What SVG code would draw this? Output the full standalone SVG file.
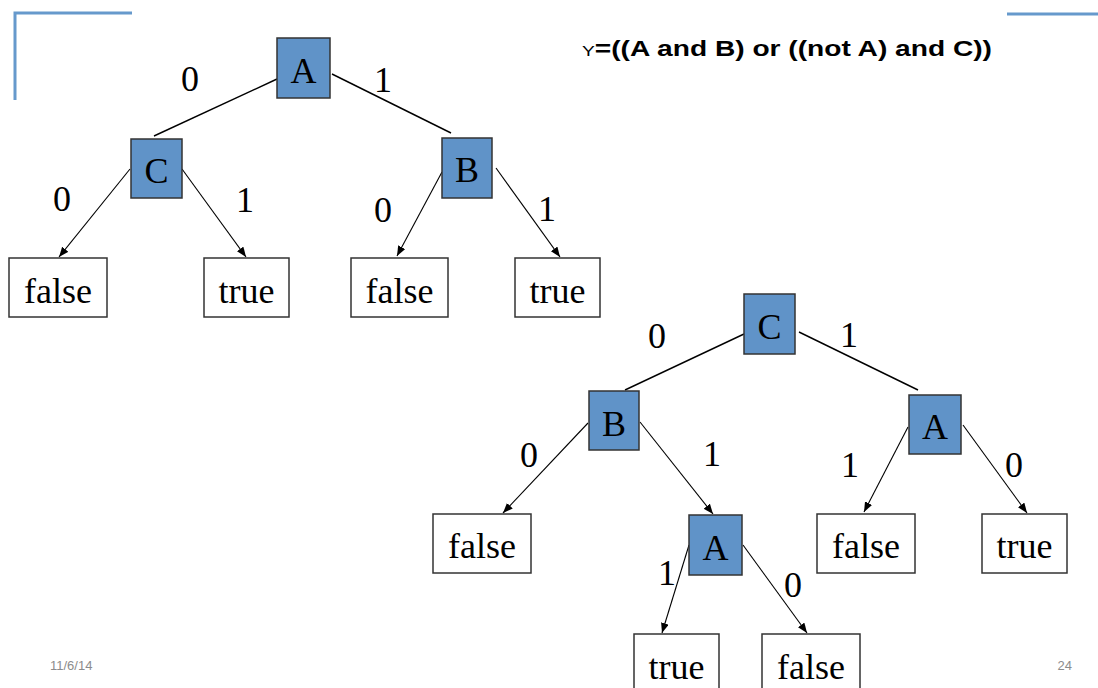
<svg xmlns="http://www.w3.org/2000/svg" width="1098" height="688" viewBox="0 0 1098 688">
<style>
.var{fill:#6093c8;stroke:#333;stroke-width:1.5}
.leaf{fill:#fff;stroke:#333;stroke-width:1.5}
.t{font-family:'Liberation Serif','Times New Roman','DejaVu Serif',serif;font-size:36px;fill:#000;text-anchor:middle}
.e{stroke:#000;stroke-width:1.4;fill:none}
.a{stroke:#000;stroke-width:1.1;fill:none;marker-end:url(#ah)}
.deco{stroke:#6699cc;stroke-width:3;fill:none}
.foot{font-family:'Liberation Sans',sans-serif;font-size:13px;fill:#8c8c8c}
</style>
<defs>
<marker id="ah" markerUnits="userSpaceOnUse" markerWidth="11" markerHeight="9" refX="10" refY="4" orient="auto">
<path d="M0,0 L10,4 L0,8 z" fill="#000"/>
</marker>
</defs>
<rect width="1098" height="688" fill="#fff"/>
<g id="decoration">
<polyline class="deco" points="132,13 15,13 15,100"/>
<line class="deco" x1="1007" y1="14" x2="1098" y2="14"/>
</g>
<text id="formula" x="582" y="56" font-family="Liberation Sans, sans-serif" textLength="410" lengthAdjust="spacingAndGlyphs"><tspan font-size="15">Y</tspan><tspan font-size="22" font-weight="bold">=((A and B) or ((not A) and C))</tspan></text>
<g id="connectors">
<line class="e" x1="277" y1="79" x2="154" y2="136"/>
<line class="e" x1="332" y1="74" x2="451" y2="133"/>
<line class="a" x1="130" y1="169" x2="59" y2="257"/>
<line class="a" x1="182" y1="169" x2="246" y2="257"/>
<line class="a" x1="442" y1="172" x2="397" y2="256"/>
<line class="a" x1="496" y1="168" x2="560" y2="257"/>
<line class="e" x1="744" y1="334" x2="625" y2="390"/>
<line class="e" x1="799" y1="332" x2="918" y2="390"/>
<line class="a" x1="588" y1="423" x2="503" y2="513"/>
<line class="a" x1="640" y1="422" x2="713" y2="514"/>
<line class="a" x1="908" y1="427" x2="864" y2="512"/>
<line class="a" x1="963" y1="425" x2="1027" y2="513"/>
<line class="a" x1="689" y1="545" x2="662" y2="633"/>
<line class="a" x1="743" y1="545" x2="807" y2="633"/>
</g>
<g id="edge-labels" class="t">
<text x="190" y="91">0</text>
<text x="383" y="92">1</text>
<text x="62" y="211">0</text>
<text x="245" y="212">1</text>
<text x="383" y="222">0</text>
<text x="547" y="221">1</text>
<text x="657" y="348">0</text>
<text x="849" y="347">1</text>
<text x="529" y="467">0</text>
<text x="712" y="466">1</text>
<text x="850" y="477">1</text>
<text x="1014" y="477">0</text>
<text x="667" y="585">1</text>
<text x="793" y="597">0</text>
</g>
<g id="n-A1"><rect class="var" x="277" y="38" width="53" height="60"/><text class="t" x="303.5" y="83">A</text></g>
<g id="n-C1"><rect class="var" x="131" y="139" width="51" height="59"/><text class="t" x="156.5" y="183">C</text></g>
<g id="n-B1"><rect class="var" x="442" y="138" width="50" height="60"/><text class="t" x="467" y="182">B</text></g>
<g id="n-false1"><rect class="leaf" x="9" y="258" width="98" height="59"/><text class="t" x="58" y="303">false</text></g>
<g id="n-true1"><rect class="leaf" x="204" y="258" width="85" height="59"/><text class="t" x="246.5" y="303">true</text></g>
<g id="n-false2"><rect class="leaf" x="351" y="258" width="97" height="59"/><text class="t" x="399.5" y="303">false</text></g>
<g id="n-true2"><rect class="leaf" x="515" y="258" width="85" height="59"/><text class="t" x="557.5" y="303">true</text></g>
<g id="n-C2"><rect class="var" x="744" y="294" width="51" height="60"/><text class="t" x="769.5" y="339">C</text></g>
<g id="n-B2"><rect class="var" x="589" y="391" width="50" height="59"/><text class="t" x="614" y="436">B</text></g>
<g id="n-A3"><rect class="var" x="909" y="395" width="52" height="59"/><text class="t" x="935" y="439">A</text></g>
<g id="n-false3"><rect class="leaf" x="433" y="514" width="98" height="59"/><text class="t" x="482" y="558">false</text></g>
<g id="n-A2"><rect class="var" x="689" y="515" width="53" height="60"/><text class="t" x="715.5" y="560">A</text></g>
<g id="n-false4"><rect class="leaf" x="817" y="514" width="98" height="59"/><text class="t" x="866" y="558">false</text></g>
<g id="n-true4"><rect class="leaf" x="982" y="514" width="85" height="59"/><text class="t" x="1024.5" y="558">true</text></g>
<g id="n-true5"><rect class="leaf" x="634" y="634" width="85" height="59"/><text class="t" x="676.5" y="679">true</text></g>
<g id="n-false5"><rect class="leaf" x="762" y="634" width="98" height="59"/><text class="t" x="811" y="679">false</text></g>
<g id="footer">
<text class="foot" x="50" y="670">11/6/14</text>
<text class="foot" x="1072" y="670" text-anchor="end">24</text>
</g>
</svg>
